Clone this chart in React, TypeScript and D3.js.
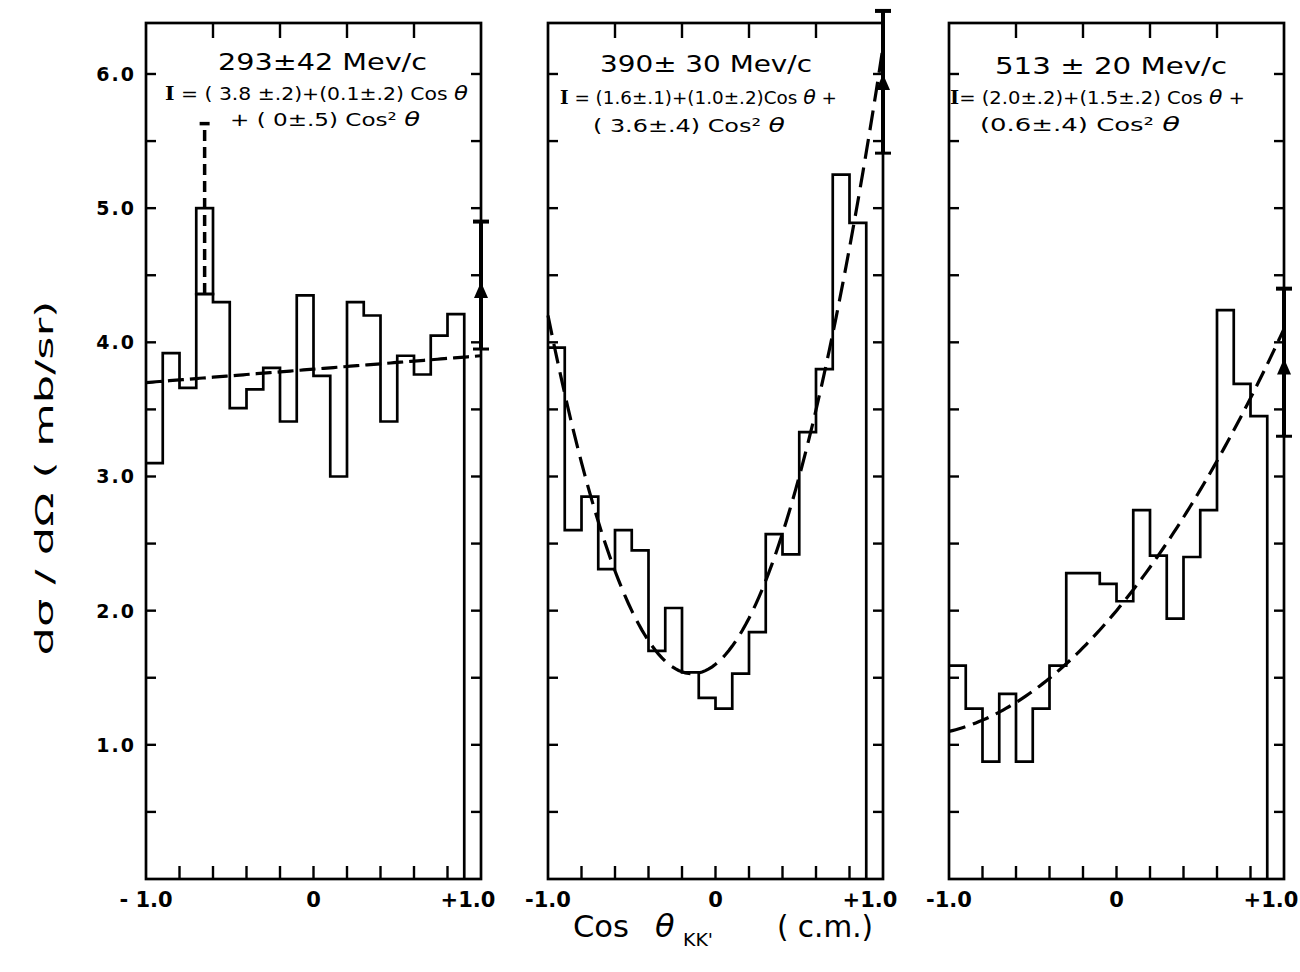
import React from 'react';
import * as d3 from 'd3';

// Lower edges of the cos(theta) bins (width 0.1); the last bin (0.9..1.0) is shown as an end-point bar.
const binStarts = [-1.0, -0.9, -0.8, -0.7, -0.6, -0.5, -0.4, -0.3, -0.2, -0.1, 0.0, 0.1, 0.2, 0.3, 0.4, 0.5, 0.6, 0.7, 0.8];
const binWidth = 0.1;

// dσ/dΩ (mb/sr) per bin
const counts293 = [3.10, 3.92, 3.66, 4.36, 4.30, 3.51, 3.65, 3.81, 3.41, 4.35, 3.75, 3.00, 4.30, 4.20, 3.41, 3.90, 3.76, 4.05, 4.21];
const counts390 = [3.96, 2.60, 2.85, 2.31, 2.60, 2.45, 1.70, 2.02, 1.54, 1.35, 1.27, 1.53, 1.84, 2.57, 2.42, 3.33, 3.80, 5.25, 4.89];
const counts513 = [1.59, 1.27, 0.875, 1.38, 0.875, 1.27, 1.59, 2.28, 2.28, 2.20, 2.07, 2.75, 2.41, 1.94, 2.40, 2.75, 4.24, 3.69, 3.45];

const momentumLabels = ['293±42 Mev/c', '390± 30 Mev/c', '513 ± 20  Mev/c'];

// Fit I = a + b cosθ + c cos²θ
const fitConst = [3.8, 1.6, 2.0];
const fitLinear = [0.1, 1.0, 1.5];
const fitQuad = [0, 3.6, 0.6];

// Forward point at cosθ = +1 with its error range
const forwardValue = [4.45, 6.0, 3.88];
const forwardLow = [3.95, 5.41, 3.30];
const forwardHigh = [4.90, 6.47, 4.40];

// Dashed excursion of the -0.7..-0.6 bin at 293 MeV/c
const spikeBinStart = -0.7;
const spikeBase = 4.36;
const spikeBox = 5.0;
const spikeTop = 5.63;

const yMinorTicks = [0.5, 1.0, 1.5, 2.0, 2.5, 3.0, 3.5, 4.0, 4.5, 5.0, 5.5, 6.0];
const yLabelValues = [1, 2, 3, 4, 5, 6];
const yLabels = ['1.0', '2.0', '3.0', '4.0', '5.0', '6.0'];
const bottomTicks = [-0.8, -0.6, -0.4, -0.2, 0, 0.2, 0.4, 0.6, 0.8];
const topTicks = [-0.6, -0.2, 0.2, 0.6];
const xLabelValues = [-1, 0, 1];
const xLabelsByPanel = [
  ['- 1.0', '0', '+1.0'],
  ['-1.0', '0', '+1.0'],
  ['-1.0', '0', '+1.0'],
];

// Formula text: [text, style] where style is 'i' (italic theta), 's' (serif capital) or '' (plain)
type Seg = [string, string];
const formulaLine1: Seg[][] = [
  [['I', 's'], [' = ( 3.8 ±.2)+(0.1±.2) Cos ', ''], ['θ', 'i']],
  [['I', 's'], [' = (1.6±.1)+(1.0±.2)Cos ', ''], ['θ', 'i'], [' +', '']],
  [['I', 's'], ['= (2.0±.2)+(1.5±.2) Cos ', ''], ['θ', 'i'], [' +', '']],
];
const formulaLine2: Seg[][] = [
  [['+ ( 0±.5)  Cos² ', ''], ['θ', 'i']],
  [['( 3.6±.4) Cos²  ', ''], ['θ', 'i']],
  [['(0.6±.4) Cos² ', ''], ['θ', 'i']],
];

const countsByPanel = [counts293, counts390, counts513];

// Layout
const panelLeft = [146, 548, 949];
const panelWidth = 335;
const yTop = 23;
const yBottom = 879;
const yMax = 6.38;
const titleLayout = [
  { t: [218, 209, 70], l1: [165, 303, 100], l2: [230, 190, 126] },
  { t: [600, 212, 72], l1: [560, 277, 104], l2: [593, 192, 132] },
  { t: [995, 232, 74], l1: [950, 295, 104], l2: [980, 200, 131] },
];
const fitDash = ['16 6', '20 9', '17 8'];

const FONT = "'DejaVu Sans', 'Liberation Sans', sans-serif";
const SERIF = "'DejaVu Serif', 'Liberation Serif', serif";

function Panel({ idx, y }: { idx: number; y: d3.ScaleLinear<number, number> }) {
  const x = d3.scaleLinear().domain([-1, 1]).range([panelLeft[idx], panelLeft[idx] + panelWidth]);
  const values = countsByPanel[idx];

  const histPts: [number, number][] = binStarts.map((b, i) => [x(b), y(values[i])]);
  const lastEdge = binStarts[binStarts.length - 1] + binWidth;
  histPts.push([x(lastEdge), y(0)]);
  const histPath = d3.line().curve(d3.curveStepAfter)(histPts) || '';

  const a = fitConst[idx], b = fitLinear[idx], c = fitQuad[idx];
  const fitPts: [number, number][] = d3.range(-1, 1.0001, 0.02).map((t) => [x(t), y(a + b * t + c * t * t)]);
  const fitPath = d3.line()(fitPts) || '';

  const x0 = x(-1), x1 = x(1);
  const frameTop = y(yMax), frameBottom = y(0);
  const lay = titleLayout[idx];

  const fx = x(1);
  const fv = y(forwardValue[idx]);
  const capW = 8;

  const renderSegs = (segs: Seg[]) =>
    segs.map(([s, st], k) => (
      <tspan
        key={k}
        fontStyle={st === 'i' ? 'italic' : 'normal'}
        fontFamily={st === 's' ? SERIF : undefined}
        fontWeight={st === 's' ? 'bold' : undefined}
        fontSize={st === 'i' ? '1.12em' : undefined}
      >
        {s}
      </tspan>
    ));

  return (
    <g>
      {/* frame */}
      <rect x={x0} y={frameTop} width={x1 - x0} height={frameBottom - frameTop} fill="none" stroke="#000" strokeWidth={2.7} />
      {/* y ticks on both sides, pointing inward */}
      {yMinorTicks.map((v) => (
        <g key={v}>
          <line x1={x0} x2={x0 + 10} y1={y(v)} y2={y(v)} stroke="#000" strokeWidth={2.4} />
          <line x1={x1 - 10} x2={x1} y1={y(v)} y2={y(v)} stroke="#000" strokeWidth={2.4} />
        </g>
      ))}
      {/* x ticks */}
      {bottomTicks.map((t) => (
        <line key={'b' + t} x1={x(t)} x2={x(t)} y1={frameBottom} y2={frameBottom - 13} stroke="#000" strokeWidth={2.4} />
      ))}
      {topTicks.map((t) => (
        <line key={'t' + t} x1={x(t)} x2={x(t)} y1={frameTop} y2={frameTop + 15} stroke="#000" strokeWidth={2.4} />
      ))}
      {/* x tick labels */}
      {xLabelValues.map((t, k) => (
        <text
          key={'xl' + t}
          x={t === 1 ? x(t) - 13 : x(t)}
          y={907}
          textAnchor="middle"
          fontFamily={FONT}
          fontWeight="bold"
          fontSize={21}
        >
          {xLabelsByPanel[idx][k]}
        </text>
      ))}

      {/* histogram */}
      <path d={histPath} fill="none" stroke="#000" strokeWidth={2.7} strokeLinejoin="miter" />

      {idx === 0 && (
        <g>
          <rect
            x={x(spikeBinStart)}
            y={y(spikeBox)}
            width={x(spikeBinStart + binWidth) - x(spikeBinStart)}
            height={y(spikeBase) - y(spikeBox)}
            fill="none"
            stroke="#000"
            strokeWidth={2.7}
          />
          <line
            x1={x(spikeBinStart + binWidth / 2)}
            x2={x(spikeBinStart + binWidth / 2)}
            y1={y(spikeBase)}
            y2={y(spikeTop)}
            stroke="#000"
            strokeWidth={3.5}
            strokeDasharray="11 6"
          />
          <line
            x1={x(spikeBinStart + binWidth / 2) - 5}
            x2={x(spikeBinStart + binWidth / 2) + 5}
            y1={y(spikeTop)}
            y2={y(spikeTop)}
            stroke="#000"
            strokeWidth={3.5}
          />
        </g>
      )}

      {/* fitted curve */}
      <path d={fitPath} fill="none" stroke="#000" strokeWidth={3.2} strokeDasharray={fitDash[idx]} />

      {/* forward end point */}
      <line x1={fx} x2={fx} y1={y(forwardLow[idx])} y2={y(forwardHigh[idx])} stroke="#000" strokeWidth={4} />
      <line x1={fx - capW} x2={fx + capW} y1={y(forwardHigh[idx])} y2={y(forwardHigh[idx])} stroke="#000" strokeWidth={4} />
      <line x1={fx - capW} x2={fx + capW} y1={y(forwardLow[idx])} y2={y(forwardLow[idx])} stroke="#000" strokeWidth={3} />
      <path d={`M${fx},${fv} L${fx - 7},${fv + 16} L${fx + 7},${fv + 16} Z`} fill="#000" />

      {/* titles */}
      <text x={lay.t[0]} y={lay.t[2]} textLength={lay.t[1]} lengthAdjust="spacingAndGlyphs" fontFamily={FONT} fontSize={23}>
        {momentumLabels[idx]}
      </text>
      <text x={lay.l1[0]} y={lay.l1[2]} textLength={lay.l1[1]} lengthAdjust="spacingAndGlyphs" fontFamily={FONT} fontSize={18}>
        {renderSegs(formulaLine1[idx])}
      </text>
      <text x={lay.l2[0]} y={lay.l2[2]} textLength={lay.l2[1]} lengthAdjust="spacingAndGlyphs" fontFamily={FONT} fontSize={18}>
        {renderSegs(formulaLine2[idx])}
      </text>
    </g>
  );
}

export default function App() {
  const y = d3.scaleLinear().domain([0, yMax]).range([yBottom, yTop]);
  return (
    <svg
      width={1300}
      height={972}
      viewBox="0 0 1300 972"
      style={{ position: 'absolute', left: 0, top: 0, background: '#fff' }}
    >
      <rect x={0} y={0} width={1300} height={972} fill="#fff" />
      {[0, 1, 2].map((i) => (
        <Panel key={i} idx={i} y={y} />
      ))}

      {/* y tick labels */}
      {yLabelValues.map((v, k) => (
        <text
          key={v}
          x={136}
          y={y(v)}
          dy="0.36em"
          textAnchor="end"
          fontFamily={FONT}
          fontWeight="bold"
          fontSize={19}
          letterSpacing={2}
        >
          {yLabels[k]}
        </text>
      ))}

      {/* y axis title */}
      <text
        transform="translate(53,478) rotate(-90)"
        textAnchor="middle"
        fontFamily={FONT}
        fontSize={25}
        textLength={355}
        lengthAdjust="spacingAndGlyphs"
      >
        dσ / dΩ  ( mb/sr)
      </text>

      {/* x axis title */}
      <text x={573} y={937} fontFamily={FONT} fontSize={30} textLength={56} lengthAdjust="spacingAndGlyphs">
        Cos
      </text>
      <text x={655} y={937} fontFamily={FONT} fontSize={32} fontStyle="italic">
        θ
      </text>
      <text x={683} y={946} fontFamily={FONT} fontSize={18} textLength={30} lengthAdjust="spacingAndGlyphs">
        KK'
      </text>
      <text x={777} y={937} fontFamily={FONT} fontSize={30} textLength={96} lengthAdjust="spacingAndGlyphs">
        ( c.m.)
      </text>
    </svg>
  );
}
